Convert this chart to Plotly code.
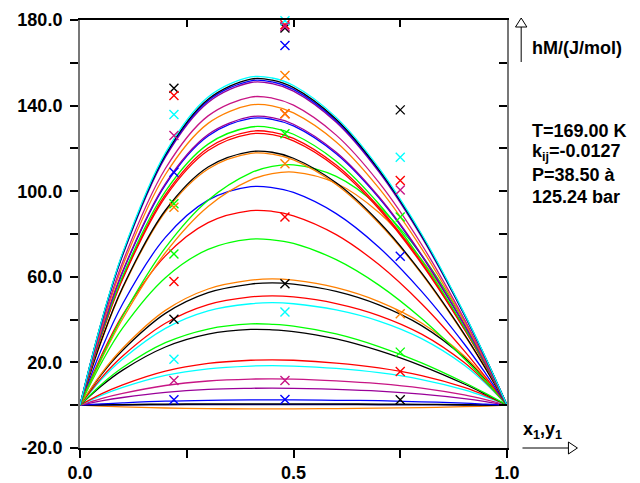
import plotly.graph_objects as go

# ---------------- data ----------------
x_grid = [0, 0.05, 0.1, 0.2, 0.3, 0.4, 0.45, 0.5, 0.6, 0.7, 0.8, 0.9, 0.95, 1.0]

hm_cyan_1 = [0, 39.0, 71.3, 117.9, 144.0, 153.4, 152.9, 149.4, 134.5, 110.9, 80.0, 42.9, 22.2, 0]
hm_black_1 = [0, 38.8, 70.8, 117.1, 143.0, 152.4, 151.9, 148.4, 133.6, 110.1, 79.5, 42.6, 22.0, 0]
hm_blue_1 = [0, 38.6, 70.5, 116.5, 142.3, 151.6, 151.1, 147.6, 132.9, 109.6, 79.1, 42.4, 21.9, 0]
hm_purple_1 = [0, 38.4, 70.1, 115.9, 141.5, 150.8, 150.3, 146.8, 132.2, 109.0, 78.6, 42.2, 21.8, 0]
hm_magenta_1 = [0, 36.6, 66.9, 110.6, 135.2, 144.0, 143.5, 140.2, 126.2, 104.1, 75.1, 40.3, 20.8, 0]
hm_orange_1 = [0, 35.7, 65.2, 107.8, 131.7, 140.3, 139.9, 136.6, 123.0, 101.4, 73.2, 39.3, 20.3, 0]
hm_purple_2 = [0, 34.3, 62.7, 103.6, 126.5, 134.8, 134.4, 131.3, 118.2, 97.4, 70.3, 37.7, 19.5, 0]
hm_blue_2 = [0, 34.1, 62.3, 103.0, 125.8, 134.0, 133.6, 130.5, 117.5, 96.9, 69.9, 37.5, 19.4, 0]
hm_green_1 = [0, 33.1, 60.4, 99.9, 122.0, 130.0, 129.6, 126.6, 114.0, 94.0, 67.8, 36.4, 18.8, 0]
hm_red_1 = [0, 32.6, 59.5, 98.4, 120.2, 128.0, 127.6, 124.7, 112.2, 92.5, 66.8, 35.8, 18.5, 0]
hm_red_2 = [0, 32.3, 59.0, 97.4, 119.0, 126.8, 126.4, 123.5, 111.2, 91.7, 66.1, 35.5, 18.3, 0]
hm_black_2 = [0, 30.2, 55.1, 91.1, 111.3, 118.5, 118.2, 115.4, 103.9, 85.7, 61.8, 33.2, 17.1, 0]
hm_orange_2 = [0, 29.9, 54.7, 90.4, 110.4, 117.7, 117.3, 114.6, 103.1, 85.0, 61.4, 32.9, 17.0, 0]
hm_green_2 = [0, 22.1, 41.7, 73.6, 95.8, 108.6, 111.6, 112.3, 106.9, 92.8, 70.1, 39.1, 20.6, 0]
hm_orange_3 = [0, 21.4, 40.4, 71.3, 92.9, 105.3, 108.2, 108.9, 103.7, 90.0, 68.0, 37.9, 19.9, 0]
hm_blue_3 = [0, 26.0, 47.4, 78.4, 95.8, 102.1, 101.7, 99.4, 89.5, 73.8, 53.2, 28.6, 14.8, 0]
hm_red_3 = [0, 23.1, 42.2, 69.8, 85.3, 90.9, 90.6, 88.5, 79.7, 65.7, 47.4, 25.4, 13.1, 0]
hm_green_3 = [0, 19.7, 36.1, 59.6, 72.8, 77.6, 77.3, 75.6, 68.0, 56.1, 40.5, 21.7, 11.2, 0]
hm_orange_4 = [0, 14.8, 26.6, 44.3, 54.3, 58.4, 59.0, 58.4, 54.9, 48.4, 38.4, 23.0, 12.4, 0]
hm_black_3 = [0, 14.3, 25.7, 42.9, 52.6, 56.6, 57.2, 56.6, 53.2, 46.9, 37.2, 22.3, 12.0, 0]
hm_red_4 = [0, 12.8, 23.0, 38.3, 47.0, 50.6, 51.1, 50.6, 47.5, 41.9, 33.2, 19.9, 10.7, 0]
hm_cyan_2 = [0, 12.0, 21.6, 35.9, 44.1, 47.4, 47.9, 47.4, 44.5, 39.3, 31.1, 18.7, 10.1, 0]
hm_green_4 = [0, 9.7, 17.6, 29.2, 35.6, 38.0, 37.8, 37.0, 33.3, 27.4, 19.8, 10.6, 5.5, 0]
hm_black_4 = [0, 9.0, 16.4, 27.2, 33.2, 35.4, 35.2, 34.4, 31.0, 25.5, 18.4, 9.9, 5.1, 0]
hm_red_5 = [0, 5.3, 9.5, 15.9, 19.5, 21.0, 21.2, 21.0, 19.7, 17.4, 13.8, 8.3, 4.5, 0]
hm_cyan_3 = [0, 4.6, 8.3, 13.9, 17.0, 18.3, 18.5, 18.3, 17.2, 15.2, 12.0, 7.2, 3.9, 0]
hm_magenta_2 = [0, 3.1, 5.5, 9.2, 11.3, 12.2, 12.3, 12.2, 11.4, 10.1, 8.0, 4.8, 2.6, 0]
hm_purple_3 = [0, 2.0, 3.6, 6.0, 7.4, 7.9, 8.0, 7.9, 7.4, 6.6, 5.2, 3.1, 1.7, 0]
hm_blue_4 = [0, 0.6, 1.1, 1.9, 2.3, 2.5, 2.5, 2.5, 2.3, 2.1, 1.6, 1.0, 0.5, 0]
hm_black_5 = [0, 0.2, 0.3, 0.5, 0.6, 0.6, 0.6, 0.6, 0.6, 0.5, 0.4, 0.2, 0.1, 0]
hm_navy_1 = [0, 0.1, 0.1, 0.2, 0.3, 0.3, 0.3, 0.3, 0.3, 0.2, 0.2, 0.1, 0.1, 0]
hm_orange_5 = [0, -0.4, -0.8, -1.3, -1.6, -1.7, -1.7, -1.7, -1.6, -1.4, -1.1, -0.7, -0.4, 0]

# experimental points (x1, hM)
exp_black_x = [0.22, 0.48, 0.75, 0.22, 0.48, 0.75]
exp_black_y = [148.1, 176.3, 138.0, 40.2, 56.7, 2.5]
exp_red_x = [0.22, 0.48, 0.75, 0.22, 0.48, 0.75, 0.48]
exp_red_y = [144.7, 177.8, 105.0, 57.8, 87.9, 15.7, 136.2]
exp_cyan_x = [0.22, 0.48, 0.75, 0.22, 0.48]
exp_cyan_y = [135.8, 179.6, 115.9, 21.5, 43.5]
exp_magenta_x = [0.22, 0.48, 0.75, 0.22, 0.48]
exp_magenta_y = [126.0, 177.0, 100.6, 11.5, 11.5]
exp_blue_x = [0.22, 0.48, 0.75, 0.22, 0.48]
exp_blue_y = [108.9, 168.1, 69.6, 2.5, 2.7]
exp_green_x = [0.22, 0.48, 0.75, 0.22, 0.75]
exp_green_y = [94.1, 126.8, 87.9, 70.7, 24.8]
exp_orange_x = [0.22, 0.48, 0.48, 0.75, 0.48]
exp_orange_y = [92.5, 154.1, 112.8, 42.7, 136.2]

x_tick_vals = [0, 0.25, 0.5, 0.75, 1.0]
x_tick_text = ["0.0", "", "0.5", "", "1.0"]
y_tick_vals = [-20, 0, 20, 40, 60, 80, 100, 120, 140, 160, 180]
y_tick_text = ["-20.0", "", "20.0", "", "60.0", "", "100.0", "", "140.0", "", "180.0"]

# ---------------- styles ----------------
BLACK = "#000000"
RED = "#ff0000"
ORANGE = "#ff8000"
MAGENTA = "#c71585"
PURPLE = "#990099"
CYAN = "#00ffff"
GREEN = "#00ff00"
BLUE = "#0000ff"
NAVY = "#000080"

curves = [
    (hm_orange_5, ORANGE), (hm_navy_1, NAVY), (hm_black_5, BLACK), (hm_blue_4, BLUE),
    (hm_purple_3, PURPLE), (hm_magenta_2, MAGENTA), (hm_cyan_3, CYAN), (hm_red_5, RED),
    (hm_black_4, BLACK), (hm_green_4, GREEN), (hm_cyan_2, CYAN), (hm_red_4, RED),
    (hm_black_3, BLACK), (hm_orange_4, ORANGE), (hm_green_3, GREEN), (hm_red_3, RED),
    (hm_blue_3, BLUE), (hm_orange_3, ORANGE), (hm_green_2, GREEN), (hm_orange_2, ORANGE),
    (hm_black_2, BLACK), (hm_red_2, RED), (hm_red_1, RED), (hm_green_1, GREEN),
    (hm_blue_2, BLUE), (hm_purple_2, PURPLE), (hm_orange_1, ORANGE), (hm_magenta_1, MAGENTA),
    (hm_purple_1, PURPLE), (hm_blue_1, BLUE), (hm_black_1, BLACK), (hm_cyan_1, CYAN),
]

markers = [
    (exp_black_x, exp_black_y, BLACK), (exp_red_x, exp_red_y, RED),
    (exp_cyan_x, exp_cyan_y, CYAN), (exp_magenta_x, exp_magenta_y, MAGENTA),
    (exp_blue_x, exp_blue_y, BLUE), (exp_green_x, exp_green_y, GREEN),
    (exp_orange_x, exp_orange_y, ORANGE),
]

FONT = "Liberation Sans, Arial, sans-serif"

fig = go.Figure()
for vals, col in curves:
    fig.add_trace(go.Scatter(x=x_grid, y=vals, mode="lines",
                             line=dict(color=col, width=1.3, shape="spline", smoothing=1.0),
                             showlegend=False, hoverinfo="skip"))
for mx, my, col in markers:
    fig.add_trace(go.Scatter(x=mx, y=my, mode="markers", cliponaxis=False,
                             marker=dict(symbol="x-thin-open", size=9, color=col,
                                         line=dict(color=col, width=1.4)),
                             showlegend=False, hoverinfo="skip"))
# invisible trace to anchor the mirror axes
fig.add_trace(go.Scatter(x=[0.5], y=[80], xaxis="x2", yaxis="y2", mode="markers",
                         marker=dict(opacity=0), showlegend=False, hoverinfo="skip"))

tickfont = dict(family=FONT, size=18, color="black", weight="bold")
fig.update_layout(
    width=640, height=483,
    margin=dict(l=80, r=132.5, t=20, b=35, autoexpand=False),
    paper_bgcolor="white", plot_bgcolor="white",
    xaxis=dict(range=[0, 1], showgrid=False, zeroline=False, showline=True,
               linecolor="black", linewidth=1.5, ticks="outside", ticklen=8,
               tickwidth=1.5, tickcolor="black", tickvals=x_tick_vals,
               ticktext=x_tick_text, tickfont=tickfont, automargin=False),
    xaxis2=dict(range=[0, 1], overlaying="x", side="top", showgrid=False,
                zeroline=False, showline=True, linecolor="black", linewidth=1.5,
                ticks="inside", ticklen=7, tickwidth=1.5, tickcolor="black",
                tickvals=[0.25, 0.5, 0.75], showticklabels=False, automargin=False),
    yaxis=dict(range=[-20, 180], showgrid=False, zeroline=False, showline=True,
               linecolor="#777777", linewidth=2, ticks="outside", ticklen=8,
               tickwidth=1.5, tickcolor="black", tickvals=y_tick_vals,
               ticktext=y_tick_text, tickfont=tickfont, ticklabelstandoff=4,
               automargin=False),
    yaxis2=dict(range=[-20, 180], overlaying="y", side="right", showgrid=False,
                zeroline=False, showline=True, linecolor="#777777", linewidth=2,
                ticks="inside", ticklen=8, tickwidth=1.5, tickcolor="black",
                tickvals=[0, 20, 40, 60, 80, 100, 120, 140, 160], showticklabels=False,
                automargin=False),
)

# paper-coordinate helpers for text & arrows (plot area: 80..507.5 px, 20..448 px)
def px(xp):
    return (xp - 80) / 427.5

def py(yp):
    return (448 - yp) / 428

annfont = dict(family=FONT, size=18, color="black", weight="bold")
fig.add_annotation(x=px(531), y=py(48), xref="paper", yref="paper", text="hM/(J/mol)",
                   showarrow=False, xanchor="left", yanchor="middle", font=annfont)
for i, t in enumerate(["T=169.00 K", "k<sub>ij</sub>=-0.0127", "P=38.50 à", "125.24 bar"]):
    fig.add_annotation(x=px(531), y=py(131 + 22 * i), xref="paper", yref="paper", text=t,
                       showarrow=False, xanchor="left", yanchor="middle", font=annfont)
fig.add_annotation(x=px(522), y=py(430), xref="paper", yref="paper",
                   text="x<sub>1</sub>,y<sub>1</sub>", showarrow=False,
                   xanchor="left", yanchor="middle", font=annfont)

# axis arrows
fig.add_shape(type="line", xref="paper", yref="paper", x0=px(523), x1=px(569),
              y0=py(448), y1=py(448), line=dict(color="black", width=1))
fig.add_shape(type="path", xref="paper", yref="paper",
              path=f"M {px(569)} {py(442)} L {px(578)} {py(448)} L {px(569)} {py(454)} Z",
              line=dict(color="black", width=1), fillcolor="white")
fig.add_shape(type="line", xref="paper", yref="paper", x0=px(521.7), x1=px(521.7),
              y0=py(62), y1=py(27), line=dict(color="black", width=1))
fig.add_shape(type="path", xref="paper", yref="paper",
              path=f"M {px(516)} {py(27)} L {px(521.7)} {py(18)} L {px(527.4)} {py(27)} Z",
              line=dict(color="black", width=1), fillcolor="white")

fig.write_html("out.html", config={"displayModeBar": False},
               post_script="document.body.style.margin='0';document.body.style.padding='0';")
